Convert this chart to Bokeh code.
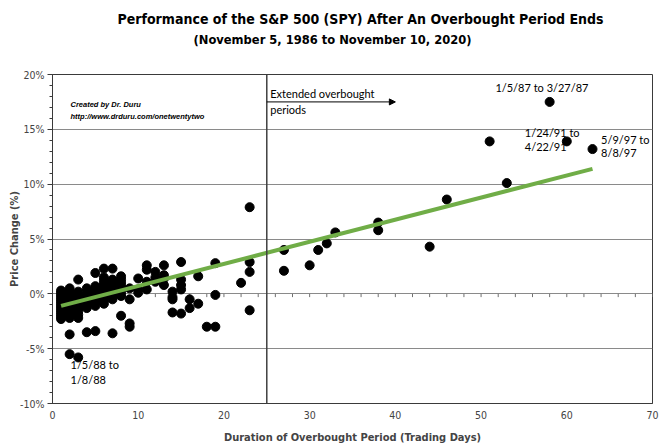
from bokeh.plotting import figure
from bokeh.models import (Title, Label, Span, Arrow, NormalHead, FixedTicker,
                          PrintfTickFormatter)
from bokeh.embed import file_html
from bokeh.resources import INLINE

# ---- data ----
duration_days = (
    [1] * 14 + [2] * 14 + [3] * 11 + [4] * 8 + [5] * 9 + [6] * 10 + [7] * 9 + [8] * 8 +
    [9] * 4 + [10] * 3 + [11] * 4 + [12] * 3 + [13] * 4 + [14] * 4 + [15] * 5 +
    [16] * 2 + [17] * 2 + [18] + [19] * 3 + [22] + [23] * 4 + [27] * 2 +
    [30, 31, 32, 33, 38, 38, 44, 46, 51, 53, 58, 60, 63]
)
price_change_pct = (
    [0.3, 0.1, -0.1, -0.3, -0.5, -0.7, -0.9, -1.1, -1.3, -1.5, -1.7, -1.9, -2.1, -2.3] +
    [0.5, 0.2, 0.0, -0.3, -0.5, -0.8, -1.0, -1.3, -1.5, -1.8, -2.0, -2.2, -3.7, -5.5] +
    [1.3, 0.2, -0.1, -0.4, -0.7, -1.0, -1.3, -1.6, -1.9, -2.2, -5.8] +
    [0.5, 0.2, -0.1, -0.4, -0.7, -1.0, -1.3, -3.5] +
    [1.9, 0.7, 0.4, 0.1, -0.2, -0.5, -0.8, -1.1, -3.4] +
    [2.3, 1.5, 1.2, 0.9, 0.6, 0.3, 0.0, -0.3, -0.6, -0.9] +
    [2.3, 1.3, 1.0, 0.7, 0.4, 0.1, -0.2, -0.5, -3.6] +
    [1.6, 1.3, 1.0, 0.7, 0.4, 0.1, -0.2, -2.0] +
    [0.5, -0.5, -2.7, -3.0] +
    [1.4, 0.4, 0.1] +
    [2.6, 2.2, 1.1, 0.4] +
    [2.0, 1.5, 1.1] +
    [2.6, 1.7, 1.4, 0.8] +
    [0.2, -0.3, -0.5, -1.7] +
    [2.9, 1.3, 0.8, 0.4, -1.8] +
    [-0.5, -1.3] +
    [1.6, -0.9] +
    [-3.0] +
    [2.8, -0.1, -3.0] +
    [1.0] +
    [7.9, 2.9, 2.0, -1.5] +
    [4.0, 2.1] +
    [2.6, 4.0, 4.6, 5.6, 6.5, 5.8, 4.3, 8.6, 13.9, 10.1, 17.5, 13.9, 13.2]
)
trend_x = [1, 63]
trend_y = [-1.1, 11.4]
cutoff_days = 25
x_ticks = [0, 10, 20, 30, 40, 50, 60, 70]
x_minor_ticks = list(range(0, 71, 2))
y_ticks = [-10, -5, 0, 5, 10, 15, 20]

title_text = "Performance of the S&P 500 (SPY) After An Overbought Period Ends"
subtitle_text = "(November 5, 1986 to November 10, 2020)"

NARROW = "DejaVu Sans Condensed"
SANS = "Liberation Sans"
NOTE = "Lato"

p = figure(width=660, height=446, x_range=(0, 70), y_range=(-10, 20),
           output_backend="svg", toolbar_location=None, title=None,
           min_border_left=52, min_border_right=8, min_border_top=74,
           min_border_bottom=42)
p.background_fill_color = "white"
p.border_fill_color = "white"
p.outline_line_color = "#3a3a3a"
p.outline_line_width = 1

# spacer between plot frame and the two title lines
p.add_layout(Title(text=" ", text_font_size="1px", standoff=25), "above")
p.add_layout(Title(text=subtitle_text, align="left", text_font=NARROW,
                   text_font_size="12.8px", text_font_style="bold",
                   text_color="black", standoff=0, offset=141), "above")
p.add_layout(Title(text=title_text, align="left", text_font=NARROW,
                   text_font_size="14px", text_font_style="bold",
                   text_color="black", standoff=6, offset=65), "above")

# axes
xa = p.xaxis[0]
xa.ticker = FixedTicker(ticks=x_ticks)
xa.major_tick_line_color = None
xa.minor_tick_line_color = None
xa.axis_line_color = "#3a3a3a"
xa.major_label_text_font = NARROW
xa.major_label_text_font_size = "10.5px"
xa.major_label_standoff = 1
xa.axis_label = "Duration of Overbought Period (Trading Days)"
xa.axis_label_text_font = NARROW
xa.axis_label_text_font_size = "11px"
xa.axis_label_text_font_style = "bold"
xa.axis_label_standoff = 9

ya = p.yaxis[0]
ya.ticker = FixedTicker(ticks=y_ticks, minor_ticks=list(range(-10, 21)))
ya.formatter = PrintfTickFormatter(format="%d%%")
ya.major_tick_out = 5
ya.major_tick_in = 0
ya.minor_tick_out = 3
ya.minor_tick_in = 0
ya.axis_line_color = "#3a3a3a"
ya.major_tick_line_color = "#3a3a3a"
ya.minor_tick_line_color = "#3a3a3a"
ya.major_label_text_font = NARROW
ya.major_label_text_font_size = "10.5px"
ya.major_label_standoff = 3
ya.axis_label = "Price Change (%)"
ya.axis_label_text_font = NARROW
ya.axis_label_text_font_size = "11px"
ya.axis_label_text_font_style = "bold"
ya.axis_label_standoff = -4

p.xgrid.grid_line_color = None
p.ygrid.ticker = FixedTicker(ticks=y_ticks)
p.ygrid.grid_line_color = "#8a8a8a"
p.ygrid.grid_line_width = 1

# small tick marks of the horizontal axis along the 0% line
p.segment(x0=x_minor_ticks, y0=[0] * len(x_minor_ticks),
          x1=x_minor_ticks, y1=[-0.3] * len(x_minor_ticks),
          line_color="#707070", line_width=1)

# data
p.scatter(duration_days, price_change_pct, size=9, color="black")
p.line(trend_x, trend_y, line_color="#70AD47", line_width=4)

p.add_layout(Span(location=cutoff_days, dimension="height",
                  line_color="#404040", line_width=1.5))

# annotations
p.add_layout(Arrow(end=NormalHead(size=6, fill_color="black", line_color="black"),
                   x_start=cutoff_days, y_start=17.5, x_end=40, y_end=17.5,
                   line_color="black", line_width=1))

def note(x, y, text, font=NOTE, size="11px", style="normal", align="left"):
    p.add_layout(Label(x=x, y=y, text=text, text_font=font, text_font_size=size,
                       text_font_style=style, text_align=align,
                       text_baseline="middle", text_color="black"))

note(25.4, 18.3, "Extended overbought")
note(25.4, 16.8, "periods")
note(57.1, 18.85, "1/5/87 to 3/27/87", align="center")
note(55.1, 14.7, "1/24/91 to")
note(55.1, 13.45, "4/22/91")
note(64.0, 14.1, "5/9/97 to")
note(64.0, 12.85, "8/8/97")
note(2.1, -6.4, "1/5/88 to")
note(2.1, -7.8, "1/8/88")
note(2.1, 17.3, "Created by Dr. Duru", font=SANS, size="7.5px",
     style="bold italic")
note(2.1, 16.2, "http://www.drduru.com/onetwentytwo", font=SANS,
     size="7.5px", style="bold italic")

open("out.html", "w").write(file_html(p, INLINE))
